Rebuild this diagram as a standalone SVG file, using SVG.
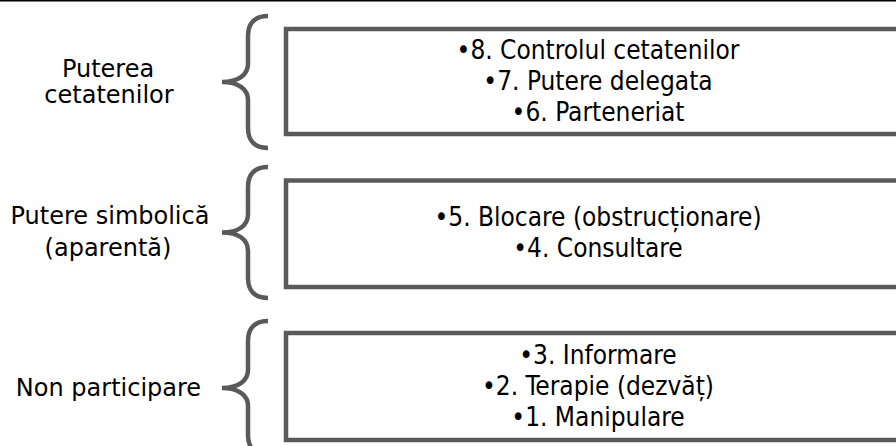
<svg xmlns="http://www.w3.org/2000/svg" width="896" height="446" viewBox="0 0 896 446">
  <style>
    .box { fill: #ffffff; stroke: #5a5a5a; stroke-width: 4.5; }
    .brace { fill: none; stroke: #5a5a5a; stroke-width: 4.5; stroke-linecap: butt; }
    .label { font-family: "DejaVu Sans", Verdana, sans-serif; font-size: 24px; fill: #000000; text-anchor: middle; }
    .item { font-family: "DejaVu Sans Condensed", "DejaVu Sans", Tahoma, sans-serif; font-size: 26px; fill: #000000; text-anchor: middle; }
  </style>
  <rect x="0" y="0" width="896" height="446" fill="#ffffff"/>
  <rect x="0" y="0" width="896" height="1.5" fill="#000000"/>

  <g id="connectors">
    <path class="brace" d="M268,16 C255,16 248,23 248,36 L248,64 C248,75 238,82 222,82 C238,82 248,89 248,100 L248,128 C248,141 255,148 268,148"/>
    <path class="brace" d="M268,167 C255,167 248,174 248,187 L248,214 C248,226 238,232.5 222,232.5 C238,232.5 248,239 248,251 L248,278 C248,291 255,298 268,298"/>
    <path class="brace" d="M268,321 C255,321 248,328 248,341 L248,370 C248,381 238,388 222,388 C238,388 248,395 248,406 L248,435 C248,448 255,455 268,455"/>
  </g>

  <g id="label-citizen-power">
    <text class="label" x="108" y="77">Puterea</text>
    <text class="label" x="109" y="103">cetatenilor</text>
  </g>
  <g id="label-tokenism">
    <text class="label" x="110" y="224">Putere simbolică</text>
    <text class="label" x="108" y="256">(aparentă)</text>
  </g>
  <g id="label-nonparticipation">
    <text class="label" x="108.5" y="396">Non participare</text>
  </g>

  <g id="box-citizen-power">
    <rect class="box" x="286" y="29" width="640" height="105"/>
    <text class="item" x="598" y="59">•8. Controlul cetatenilor</text>
    <text class="item" x="598" y="90">•7. Putere delegata</text>
    <text class="item" x="598" y="121">•6. Parteneriat</text>
  </g>
  <g id="box-tokenism">
    <rect class="box" x="286" y="180.5" width="640" height="106.5"/>
    <text class="item" x="598" y="226">•5. Blocare (obstrucționare)</text>
    <text class="item" x="598" y="257">•4. Consultare</text>
  </g>
  <g id="box-nonparticipation">
    <rect class="box" x="286" y="333" width="640" height="107"/>
    <text class="item" x="598" y="364">•3. Informare</text>
    <text class="item" x="598" y="395">•2. Terapie (dezvăț)</text>
    <text class="item" x="598" y="426">•1. Manipulare</text>
  </g>
</svg>
